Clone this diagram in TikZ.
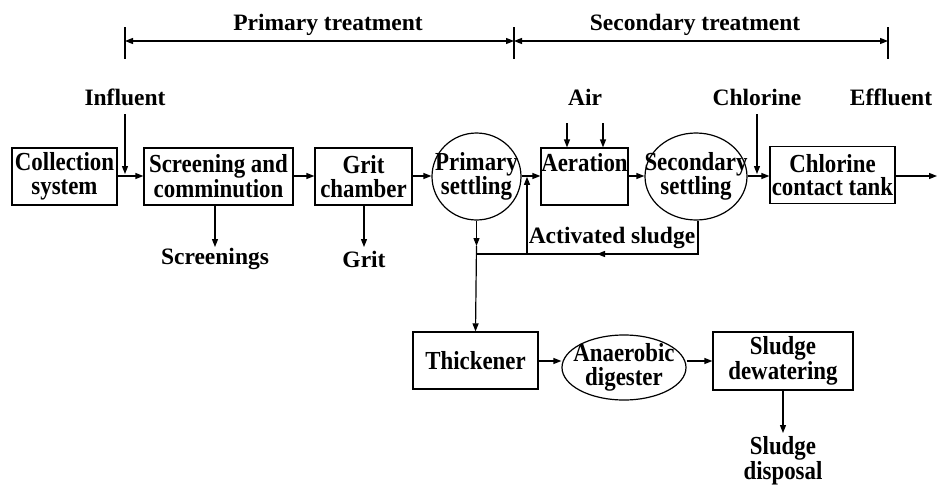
\documentclass[tikz,border=0pt]{standalone}
\usepackage{fontspec}
\setmainfont{Liberation Serif}
\newfontfamily\boxfont{Liberation Serif}[FakeStretch=0.88]
\usetikzlibrary{arrows.meta,shapes.geometric}
\begin{document}
\begin{tikzpicture}[x=1pt,y=-1pt,
  font=\bfseries\fontsize{23.5}{23}\selectfont,
  bfont/.style={font=\boxfont\bfseries\fontsize{26}{23.5}\selectfont},
  lw/.style={line width=1.2pt},
  arr/.style={lw,-{Triangle[length=8pt,width=6pt]}},
  dim/.style={lw,{Triangle[length=8pt,width=6pt]}-{Triangle[length=8pt,width=6pt]}},
  box/.style={draw,lw,rectangle,inner sep=0pt,align=center,bfont},
  ell/.style={draw,lw,ellipse,inner sep=0pt},
  lbl/.style={inner sep=0pt,align=center},
  blbl/.style={inner sep=0pt,align=center,bfont}]
\useasboundingbox (0,0) rectangle (938,485);
% dimension lines
\coordinate (t1a) at (125,27); \coordinate (t1b) at (125,59);
\coordinate (t2a) at (514,27); \coordinate (t2b) at (514,59);
\coordinate (t3a) at (888,27); \coordinate (t3b) at (888,59);
\draw[lw] (t1a) -- (t1b);
\draw[lw] (t2a) -- (t2b);
\draw[lw] (t3a) -- (t3b);
\coordinate (d1) at (125,41); \coordinate (d2) at (514,41); \coordinate (d3) at (888,41);
\draw[dim] (d1) -- (d2);
\draw[dim] (d2) -- (d3);
\node[lbl] (pt) at (328,25) {Primary treatment};
\node[lbl] (st) at (695,25) {Secondary treatment};
% labels
\node[lbl] (inf) at (125,97) {Influent};
\node[lbl] (air) at (585,97) {Air};
\node[lbl] (chl) at (757,97) {Chlorine};
\node[lbl] (eff) at (891,97) {Effluent};
% main boxes
\node[box,minimum width=105pt,minimum height=57pt] (col) at (64.5,176.5) {Collection\\system};
\node[box,minimum width=149pt,minimum height=57pt] (scr) at (218.5,176.5) {Screening and\\comminution};
\node[box,minimum width=97pt,minimum height=57pt] (grit) at (363.5,176.5) {Grit\\chamber};
\node[ell,minimum width=89pt,minimum height=87pt,
  label={[blbl]center:Primary\\settling}] (ps) at (476.5,176.5) {};
\node[box,minimum width=87pt,minimum height=57pt,
  label={[blbl,anchor=north,yshift=-6pt]north:Aeration}] (aer) at (584.5,176.5) {};
\node[ell,minimum width=102pt,minimum height=87pt,
  label={[blbl]center:Secondary\\settling}] (ss) at (696,176.5) {};
\node[box,minimum width=125pt,minimum height=57pt] (cct) at (832.5,175) {Chlorine\\contact tank};
\node[lbl] (scrn) at (215,259) {Screenings};
\node[lbl] (gritl) at (364,259) {Grit};
\node[lbl] (act) at (612,238) {Activated sludge};
% sludge line
\node[box,minimum width=125pt,minimum height=57pt] (thk) at (475.5,360.5) {Thickener};
\node[ell,minimum width=124pt,minimum height=65pt,
  label={[blbl]center:Anaerobic\\digester}] (ad) at (624,367.5) {};
\node[box,minimum width=140pt,minimum height=58pt] (sd) at (783,361) {Sludge\\dewatering};
\node[blbl] (sdl) at (783,461) {Sludge\\disposal};
% flows
\coordinate (infE) at (125,174);
\coordinate (infS) at (125,114);
\draw[arr] (infS) -- (infE);
\draw[arr] (col.east |- 0,176) -- (scr.west |- 0,176);
\draw[arr] (scr.east |- 0,176) -- (grit.west |- 0,176);
\draw[arr] (grit.east |- 0,176) -- (ps.west |- 0,176);
\draw[arr] (ps.east |- 0,176) -- (aer.west |- 0,176);
\draw[arr] (aer.east |- 0,176) -- (ss.west |- 0,176);
\draw[arr] (ss.east |- 0,176) -- (cct.west |- 0,176);
\coordinate (out) at (937,176);
\draw[arr] (cct.east |- 0,176) -- (out);
% air
\coordinate (a1s) at (567,123); \coordinate (a2s) at (603,123);
\draw[arr] (a1s) -- (a1s |- aer.north);
\draw[arr] (a2s) -- (a2s |- aer.north);
% chlorine
\coordinate (cls) at (757,114); \coordinate (cle) at (757,174);
\draw[arr] (cls) -- (cle);
% screenings and grit
\coordinate (scrE) at (215,247); \coordinate (gritE) at (364,247);
\draw[arr] (scrE |- scr.south) -- (scrE);
\draw[arr] (gritE |- grit.south) -- (gritE);
% activated sludge return
\coordinate (ssb) at (698,254);
\coordinate (jn) at (476.5,254);
\coordinate (rt) at (527,254);
\coordinate (mid) at (597,254);
\draw[lw] (ssb |- ss.south) -- (ssb) -- (jn);
\draw[arr] (ssb) -- (mid);
\draw[arr] (rt) -- (rt |- 0,176.8);
% primary sludge to thickener
\coordinate (pm) at (476.5,246);
\draw[arr] (ps.south) -- (pm);
\draw[arr] (pm) -- (thk.north);
% sludge train
\draw[arr] (thk.east |- 0,361) -- (ad.west |- 0,361);
\draw[arr] (ad.east |- 0,361) -- (sd.west |- 0,361);
\coordinate (sdE) at (783,433);
\draw[arr] (sd.south) -- (sdE);
\end{tikzpicture}
\end{document}
